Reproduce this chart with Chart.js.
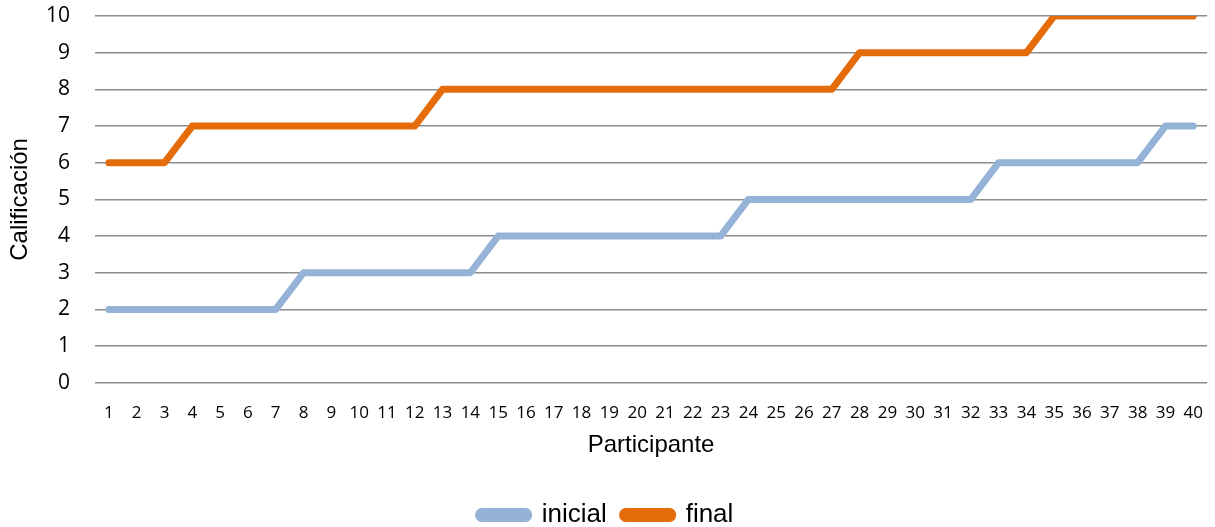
<!DOCTYPE html>
<html>
<head>
<meta charset="utf-8">
<script src="https://cdn.jsdelivr.net/npm/chart.js@4"></script>
<style>
    html, body { margin: 0; padding: 0; background: #fff; overflow: hidden; }
    #wrap { width: 1215px; height: 527px; overflow: hidden; }
</style>
</head>
<body>
<div id="wrap"><canvas id="myChart" width="1215" height="538"></canvas></div>
<script>
// participants 1..40
const participantes = [];
for (let i = 1; i <= 40; i++) participantes.push(String(i));

const inicial = [2, 2, 2, 2, 2, 2, 2, 3, 3, 3, 3, 3, 3, 3, 4, 4, 4, 4, 4, 4,
                 4, 4, 4, 5, 5, 5, 5, 5, 5, 5, 5, 5, 6, 6, 6, 6, 6, 6, 7, 7];
const final = [6, 6, 6, 7, 7, 7, 7, 7, 7, 7, 7, 7, 8, 8, 8, 8, 8, 8, 8, 8,
               8, 8, 8, 8, 8, 8, 8, 9, 9, 9, 9, 9, 9, 9, 10, 10, 10, 10, 10, 10];
const seriesNames = ['inicial', 'final'];
const seriesColors = ['#95B3D7', '#E46C0A'];

function buildDatasets() {
    return [inicial, final].map((values, i) => ({
        label: seriesNames[i],
        data: values,
        borderColor: seriesColors[i],
        backgroundColor: seriesColors[i],
        borderWidth: 7,
        borderCapStyle: 'round',
        borderJoinStyle: 'round',
        pointRadius: 0,
        tension: 0
    }));
}

const ctx = document.getElementById('myChart').getContext('2d');
window.myChart = new Chart(ctx, {
    type: 'line',
    data: { labels: participantes, datasets: buildDatasets() },
    options: {
        responsive: false,
        animation: false,
        layout: { padding: { top: 16, right: 3, left: 0, bottom: 0 } },
        plugins: {
            tooltip: { enabled: false },
            legend: {
                position: 'bottom',
                labels: {
                    color: '#000',
                    font: { family: 'Liberation Sans, Arial', size: 26 },
                    boxWidth: 50,
                    boxHeight: 7,
                    useBorderRadius: true,
                    borderRadius: 3,
                    padding: 16
                }
            }
        },
        scales: {
            x: {
                offset: true,
                grid: { display: false },
                border: { display: false },
                ticks: {
                    color: '#000',
                    font: { family: 'Open Sans', size: 17 },
                    padding: 12,
                    maxRotation: 0,
                    autoSkip: false
                },
                title: {
                    display: true,
                    text: 'Participante',
                    color: '#000',
                    font: { family: 'Liberation Sans, Arial', size: 24 },
                    padding: { top: -4, bottom: 26 }
                }
            },
            y: {
                min: 0,
                max: 10,
                afterFit: scale => {
                    scale.width = 95;
                    scale.paddingTop = 0;
                    scale.paddingBottom = 0;
                },
                grid: { color: '#8c8c8c', lineWidth: 1.5, drawTicks: false },
                border: { display: false },
                ticks: {
                    stepSize: 1,
                    color: '#000',
                    font: { family: 'Open Sans', size: 21 },
                    padding: 25
                },
                title: {
                    display: true,
                    text: 'Calificación',
                    color: '#000',
                    font: { family: 'Liberation Sans, Arial', size: 24 },
                    padding: { top: 6, bottom: 0 }
                }
            }
        }
    }
});
</script>
</body>
</html>
